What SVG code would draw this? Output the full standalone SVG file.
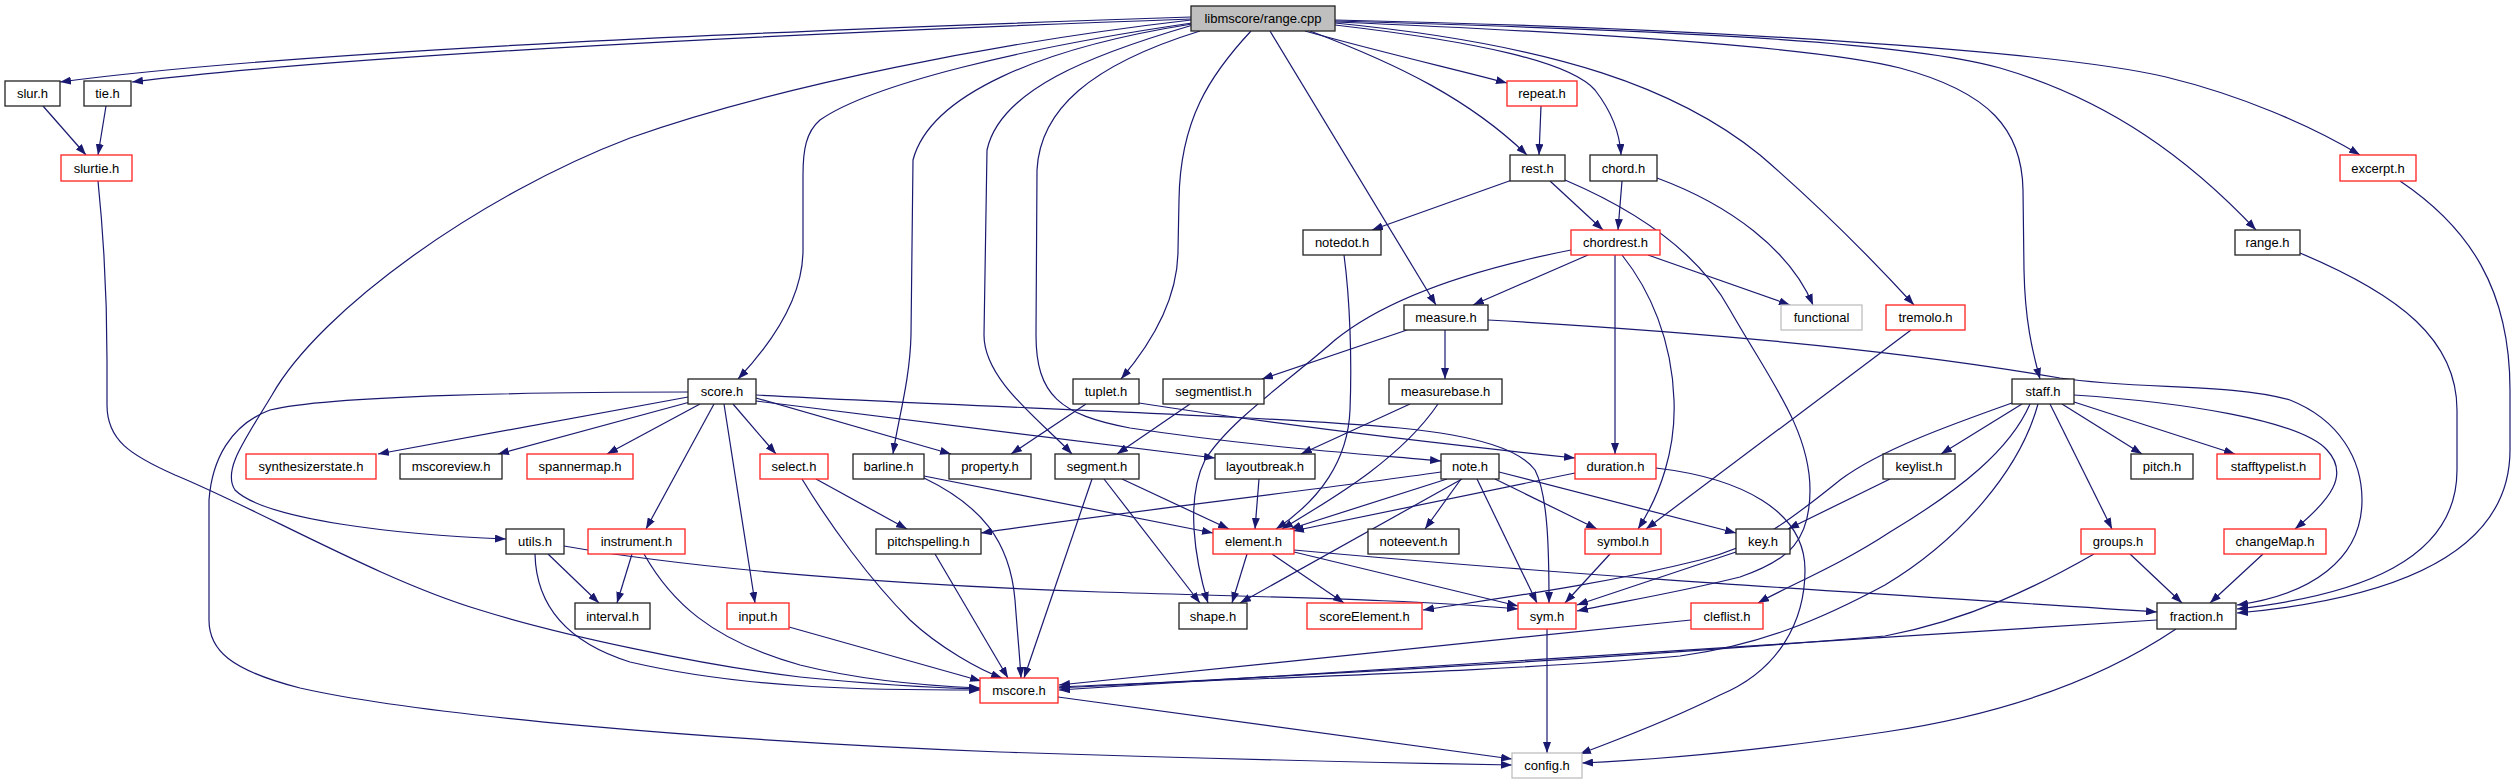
<svg xmlns="http://www.w3.org/2000/svg" width="2515" height="784" viewBox="0 0 2515 784">
<style>
.node rect{fill:#fff;stroke:#222;stroke-width:1.3}
.node.red rect{stroke:#ff2020}
.node.grey rect{stroke:#bfbfbf}
.node.root rect{fill:#bfbfbf;stroke:#222}
.node text{font-family:"Liberation Sans",Arial,sans-serif;font-size:13px;fill:#000;text-anchor:middle}
#edges path{fill:none;stroke:#191970;stroke-width:1.2;marker-end:url(#arr)}
</style>
<defs>
<marker id="arr" markerWidth="11" markerHeight="8" refX="11" refY="4" orient="auto" markerUnits="userSpaceOnUse"><path d="M0,0 L11,4 L0,8 z" fill="#191970"/></marker>
</defs>
<rect width="2515" height="784" fill="#fff"/>
<g id="edges">
<path d="M1191,17 C800,30 300,50 60,82"/>
<path d="M1191,19 C800,33 350,55 132,82"/>
<path d="M1192,23 C1020,48 870,85 820,120 C806,132 803,150 803,175 L803,250 C803,300 770,345 738,379"/>
<path d="M1191,20 C1000,42 780,85 630,138 C480,195 320,310 272,395 C245,440 222,470 235,490 C265,520 400,535 506,539"/>
<path d="M1192,24 C1040,48 930,95 913,160 L911,335 C910,380 898,420 893,454"/>
<path d="M1193,25 C1090,55 1000,90 987,150 L984,335 C984,380 1040,420 1072,454"/>
<path d="M1200,31 C1090,65 1040,110 1037,170 L1036,335 C1036,395 1060,415 1130,428 C1250,446 1350,453 1441,461"/>
<path d="M1251,31 C1210,75 1180,120 1179,200 L1178,250 C1178,300 1150,345 1121,379"/>
<path d="M1270,31 L1436,305"/>
<path d="M1305,31 C1380,52 1450,68 1507,83"/>
<path d="M1310,31 C1400,65 1470,100 1527,155"/>
<path d="M1335,25 C1480,42 1570,62 1595,90 C1612,112 1620,135 1621,155"/>
<path d="M1335,23 C1560,45 1680,90 1760,155 C1830,215 1880,268 1914,305"/>
<path d="M1335,22 C1650,35 1830,50 1900,68 C1990,92 2022,130 2023,190 L2024,270 C2025,320 2032,350 2040,379"/>
<path d="M1335,21 C1650,30 1900,40 2000,68 C2110,100 2190,160 2256,230"/>
<path d="M1335,20 C1700,28 2050,50 2166,77 C2240,95 2310,125 2360,155"/>
<path d="M43,106 L86,155"/>
<path d="M106,106 L98,155"/>
<path d="M98,181 C103,230 107,300 107,360 L107,405 C107,440 130,455 175,475 C260,510 380,580 480,610 C560,635 700,665 800,677 C880,685 940,688 980,689"/>
<path d="M1541,106 L1539,155"/>
<path d="M1512,180 L1372,230"/>
<path d="M1550,181 L1603,230"/>
<path d="M1565,180 C1640,212 1700,255 1730,310 C1770,380 1810,430 1810,490 C1810,540 1790,560 1740,577 C1680,592 1620,602 1577,611"/>
<path d="M1622,181 L1618,230"/>
<path d="M1657,178 C1730,205 1790,250 1813,305"/>
<path d="M2400,181 C2470,228 2510,290 2510,390 L2510,450 C2510,560 2380,600 2237,613"/>
<path d="M2300,253 C2400,295 2457,340 2457,410 L2457,470 C2457,560 2360,595 2237,609"/>
<path d="M1488,320 C1700,332 1900,350 2060,378 C2140,390 2230,383 2290,400 C2340,420 2362,460 2362,500 C2362,560 2310,595 2237,605"/>
<path d="M1588,255 L1473,305"/>
<path d="M1648,255 L1790,305"/>
<path d="M1615,255 L1615,454"/>
<path d="M1622,255 C1650,290 1672,340 1674,400 C1676,450 1660,495 1638,529"/>
<path d="M1571,250 C1480,268 1390,295 1335,340 C1290,380 1230,420 1205,460 C1185,500 1195,560 1208,603"/>
<path d="M1344,255 C1350,300 1352,360 1350,410 C1348,460 1320,500 1276,529"/>
<path d="M1911,330 L1646,529"/>
<path d="M1407,330 L1262,379"/>
<path d="M1445,330 L1445,379"/>
<path d="M1086,404 L1011,454"/>
<path d="M1139,403 C1300,428 1450,445 1575,458"/>
<path d="M1190,404 L1117,454"/>
<path d="M1410,404 L1301,454"/>
<path d="M1438,404 C1400,460 1330,500 1282,529"/>
<path d="M2012,403 C1950,425 1880,450 1840,480 C1790,520 1760,545 1700,560 C1600,585 1500,598 1423,610"/>
<path d="M2022,404 L1941,454"/>
<path d="M2030,404 C2010,450 1960,490 1890,532 C1840,565 1790,585 1758,603"/>
<path d="M2038,404 C2020,470 1960,540 1885,585 C1820,620 1760,645 1680,656 C1500,672 1250,678 1059,687"/>
<path d="M2050,404 L2112,529"/>
<path d="M2062,404 L2142,454"/>
<path d="M2074,402 L2235,454"/>
<path d="M2074,395 C2180,402 2300,420 2327,450 C2350,475 2330,500 2295,529"/>
<path d="M1890,479 L1788,529"/>
<path d="M1441,472 C1300,492 1100,515 981,533"/>
<path d="M1447,479 L1290,529"/>
<path d="M1462,479 L1240,603"/>
<path d="M1461,479 L1425,529"/>
<path d="M1477,479 L1537,603"/>
<path d="M1495,479 L1597,529"/>
<path d="M1499,472 L1736,533"/>
<path d="M1575,473 L1293,531"/>
<path d="M1656,468 C1740,478 1805,510 1805,570 C1805,620 1780,670 1720,695 C1660,725 1610,742 1580,754"/>
<path d="M1247,554 L1232,603"/>
<path d="M1272,554 L1344,603"/>
<path d="M1294,552 L1518,606"/>
<path d="M1294,550 C1600,578 1900,595 2157,612"/>
<path d="M924,476 L1213,533"/>
<path d="M924,478 C980,505 1010,540 1015,600 C1018,640 1020,660 1021,678"/>
<path d="M1122,479 L1229,529"/>
<path d="M1104,479 L1200,603"/>
<path d="M1092,479 L1024,678"/>
<path d="M802,479 C830,525 870,580 910,620 C940,648 980,670 1002,678"/>
<path d="M816,479 L907,529"/>
<path d="M935,554 L1008,678"/>
<path d="M789,627 L981,681"/>
<path d="M632,554 L617,603"/>
<path d="M644,554 C670,600 710,640 800,665 C860,680 930,686 980,688"/>
<path d="M548,554 L599,603"/>
<path d="M535,554 C536,600 560,640 630,662 C750,690 880,690 980,690"/>
<path d="M564,546 C700,570 900,585 1100,592 C1300,598 1420,600 1518,609"/>
<path d="M688,397 L378,454"/>
<path d="M690,402 L498,454"/>
<path d="M700,404 L607,454"/>
<path d="M688,392 C550,392 330,395 270,410 C230,425 212,460 209,500 L209,620 C209,650 230,670 300,688 C420,715 700,740 1000,752 C1250,760 1400,763 1512,765"/>
<path d="M733,404 L776,454"/>
<path d="M756,398 L951,454"/>
<path d="M756,401 L1215,458"/>
<path d="M714,404 L646,529"/>
<path d="M724,404 L755,603"/>
<path d="M756,395 C1000,408 1250,415 1400,428 C1480,436 1520,450 1535,470 C1548,495 1549,550 1549,603"/>
<path d="M1610,554 L1565,603"/>
<path d="M1736,552 L1577,605"/>
<path d="M1547,629 L1547,753"/>
<path d="M1058,697 L1512,759"/>
<path d="M1691,620 L1059,685"/>
<path d="M2094,554 C2040,585 1970,620 1885,636 C1600,660 1250,678 1059,688"/>
<path d="M2130,554 L2182,603"/>
<path d="M2263,554 L2210,603"/>
<path d="M2157,620 L1059,690"/>
<path d="M2176,629 C2100,680 2000,715 1885,732 C1750,752 1650,760 1582,763"/>
<path d="M1259,479 L1255,529"/>
</g>
<g id="n-range-cpp" class="node root"><rect x="1191" y="6" width="144" height="25"/><text x="1263" y="23">libmscore/range.cpp</text></g>
<g id="n-slur" class="node"><rect x="5" y="81" width="55" height="25"/><text x="32.5" y="98">slur.h</text></g>
<g id="n-tie" class="node"><rect x="84" y="81" width="47" height="25"/><text x="107.5" y="98">tie.h</text></g>
<g id="n-repeat" class="node red"><rect x="1507" y="81" width="70" height="25"/><text x="1542" y="98">repeat.h</text></g>
<g id="n-slurtie" class="node red"><rect x="61" y="155" width="71" height="26"/><text x="96.5" y="173">slurtie.h</text></g>
<g id="n-rest" class="node"><rect x="1510" y="155" width="55" height="26"/><text x="1537.5" y="173">rest.h</text></g>
<g id="n-chord" class="node"><rect x="1590" y="155" width="67" height="26"/><text x="1623.5" y="173">chord.h</text></g>
<g id="n-excerpt" class="node red"><rect x="2340" y="155" width="76" height="26"/><text x="2378" y="173">excerpt.h</text></g>
<g id="n-notedot" class="node"><rect x="1303" y="230" width="78" height="25"/><text x="1342" y="247">notedot.h</text></g>
<g id="n-chordrest" class="node red"><rect x="1571" y="230" width="89" height="25"/><text x="1615.5" y="247">chordrest.h</text></g>
<g id="n-range-h" class="node"><rect x="2235" y="230" width="65" height="25"/><text x="2267.5" y="247">range.h</text></g>
<g id="n-measure" class="node"><rect x="1404" y="305" width="84" height="25"/><text x="1446" y="322">measure.h</text></g>
<g id="n-functional" class="node grey"><rect x="1781" y="305" width="81" height="25"/><text x="1821.5" y="322">functional</text></g>
<g id="n-tremolo" class="node red"><rect x="1886" y="305" width="79" height="25"/><text x="1925.5" y="322">tremolo.h</text></g>
<g id="n-score" class="node"><rect x="688" y="379" width="68" height="25"/><text x="722" y="396">score.h</text></g>
<g id="n-tuplet" class="node"><rect x="1073" y="379" width="66" height="25"/><text x="1106" y="396">tuplet.h</text></g>
<g id="n-segmentlist" class="node"><rect x="1163" y="379" width="101" height="25"/><text x="1213.5" y="396">segmentlist.h</text></g>
<g id="n-measurebase" class="node"><rect x="1389" y="379" width="113" height="25"/><text x="1445.5" y="396">measurebase.h</text></g>
<g id="n-staff" class="node"><rect x="2012" y="379" width="62" height="25"/><text x="2043" y="396">staff.h</text></g>
<g id="n-synthesizerstate" class="node red"><rect x="246" y="454" width="130" height="25"/><text x="311" y="471">synthesizerstate.h</text></g>
<g id="n-mscoreview" class="node"><rect x="400" y="454" width="102" height="25"/><text x="451" y="471">mscoreview.h</text></g>
<g id="n-spannermap" class="node red"><rect x="527" y="454" width="106" height="25"/><text x="580" y="471">spannermap.h</text></g>
<g id="n-select" class="node red"><rect x="760" y="454" width="68" height="25"/><text x="794" y="471">select.h</text></g>
<g id="n-barline" class="node"><rect x="853" y="454" width="71" height="25"/><text x="888.5" y="471">barline.h</text></g>
<g id="n-property" class="node"><rect x="949" y="454" width="82" height="25"/><text x="990" y="471">property.h</text></g>
<g id="n-segment" class="node"><rect x="1055" y="454" width="84" height="25"/><text x="1097" y="471">segment.h</text></g>
<g id="n-layoutbreak" class="node"><rect x="1215" y="454" width="100" height="25"/><text x="1265" y="471">layoutbreak.h</text></g>
<g id="n-note" class="node"><rect x="1441" y="454" width="58" height="25"/><text x="1470" y="471">note.h</text></g>
<g id="n-duration" class="node red"><rect x="1575" y="454" width="81" height="25"/><text x="1615.5" y="471">duration.h</text></g>
<g id="n-keylist" class="node"><rect x="1883" y="454" width="72" height="25"/><text x="1919" y="471">keylist.h</text></g>
<g id="n-pitch" class="node"><rect x="2131" y="454" width="62" height="25"/><text x="2162" y="471">pitch.h</text></g>
<g id="n-stafftypelist" class="node red"><rect x="2217" y="454" width="103" height="25"/><text x="2268.5" y="471">stafftypelist.h</text></g>
<g id="n-utils" class="node"><rect x="506" y="529" width="58" height="25"/><text x="535" y="546">utils.h</text></g>
<g id="n-instrument" class="node red"><rect x="588" y="529" width="97" height="25"/><text x="636.5" y="546">instrument.h</text></g>
<g id="n-pitchspelling" class="node"><rect x="876" y="529" width="105" height="25"/><text x="928.5" y="546">pitchspelling.h</text></g>
<g id="n-element" class="node red"><rect x="1213" y="529" width="81" height="25"/><text x="1253.5" y="546">element.h</text></g>
<g id="n-noteevent" class="node"><rect x="1368" y="529" width="91" height="25"/><text x="1413.5" y="546">noteevent.h</text></g>
<g id="n-symbol" class="node red"><rect x="1585" y="529" width="76" height="25"/><text x="1623" y="546">symbol.h</text></g>
<g id="n-key" class="node"><rect x="1736" y="529" width="54" height="25"/><text x="1763" y="546">key.h</text></g>
<g id="n-groups" class="node red"><rect x="2081" y="529" width="74" height="25"/><text x="2118" y="546">groups.h</text></g>
<g id="n-changeMap" class="node red"><rect x="2224" y="529" width="102" height="25"/><text x="2275" y="546">changeMap.h</text></g>
<g id="n-interval" class="node"><rect x="575" y="603" width="75" height="26"/><text x="612.5" y="621">interval.h</text></g>
<g id="n-input" class="node red"><rect x="727" y="603" width="62" height="26"/><text x="758" y="621">input.h</text></g>
<g id="n-shape" class="node"><rect x="1179" y="603" width="68" height="26"/><text x="1213" y="621">shape.h</text></g>
<g id="n-scoreElement" class="node red"><rect x="1307" y="603" width="115" height="26"/><text x="1364.5" y="621">scoreElement.h</text></g>
<g id="n-sym" class="node red"><rect x="1518" y="603" width="58" height="26"/><text x="1547" y="621">sym.h</text></g>
<g id="n-cleflist" class="node red"><rect x="1691" y="603" width="72" height="26"/><text x="1727" y="621">cleflist.h</text></g>
<g id="n-fraction" class="node"><rect x="2157" y="603" width="79" height="26"/><text x="2196.5" y="621">fraction.h</text></g>
<g id="n-mscore" class="node red"><rect x="980" y="678" width="78" height="25"/><text x="1019" y="695">mscore.h</text></g>
<g id="n-config" class="node grey"><rect x="1512" y="753" width="70" height="25"/><text x="1547" y="770">config.h</text></g>
</svg>
